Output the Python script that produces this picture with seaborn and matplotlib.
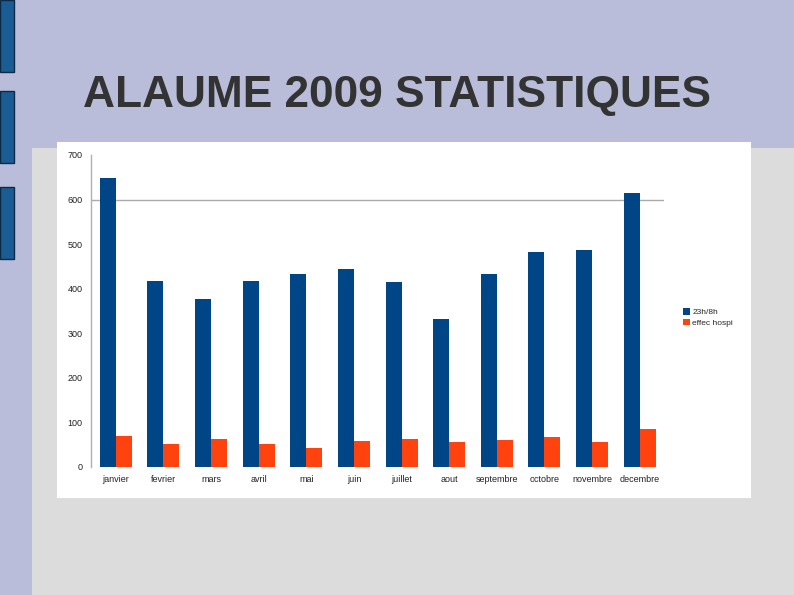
import numpy as np
import pandas as pd
import seaborn as sns
import matplotlib.pyplot as plt
from matplotlib.patches import Rectangle

months = ["janvier", "fevrier", "mars", "avril", "mai", "juin", "juillet",
          "aout", "septembre", "octobre", "novembre", "decembre"]
nuit = [648, 417, 377, 417, 433, 444, 415, 332, 433, 482, 487, 615]
hospi = [70, 52, 63, 52, 43, 58, 63, 56, 60, 67, 56, 85]
series = ["23h/8h", "effec hospi"]
colors = ["#004586", "#ff420e"]

df = pd.DataFrame({
    "mois": months * 2,
    "valeur": nuit + hospi,
    "serie": [series[0]] * 12 + [series[1]] * 12,
})

sns.set_style("white")
plt.rcParams['font.family'] = ['Liberation Sans', 'DejaVu Sans']

W, H = 794, 595
fig = plt.figure(figsize=(W / 100, H / 100), dpi=100)
fig.patch.set_facecolor("#b9bdd9")

def px_rect(x0, y0, x1, y1, **kw):
    fig.patches.append(Rectangle((x0 / W, 1 - y1 / H), (x1 - x0) / W, (y1 - y0) / H,
                                 transform=fig.transFigure, figure=fig, zorder=-5, **kw))

# slide decoration
px_rect(32, 148, 794, 595, facecolor="#dcdcdc", edgecolor="none")
for y0, y1 in [(0, 72), (91, 163), (187, 259)]:
    px_rect(0, y0, 14, y1, facecolor="#1a5c94", edgecolor="#0d2a45", linewidth=1)
px_rect(57, 142, 751, 498, facecolor="white", edgecolor="none")

fig.text(83 / W, 1 - 95 / H, "ALAUME 2009 STATISTIQUES", fontsize=31.9,
         fontweight="bold", color="#333333", va="center", ha="left")

ax = fig.add_axes([91 / W, 1 - 467 / H, (664 - 91) / W, (467 - 155) / H])
sns.barplot(data=df, x="mois", y="valeur", hue="serie", palette=colors,
            width=0.67, saturation=1, linewidth=0, ax=ax, legend=True)
ax.set_facecolor("none")
ax.set_xlim(-0.52, 11.51)
ax.set_ylim(0, 700)
ax.set_yticks(range(0, 701, 100))
ax.axhline(600, color="#aaaaaa", linewidth=1, zorder=0)
ax.set_xlabel("")
ax.set_ylabel("")
ax.tick_params(axis="both", labelsize=6.5, colors="#222222", length=0, pad=6)
for s in ["top", "right", "bottom"]:
    ax.spines[s].set_visible(False)
ax.spines["left"].set_color("#b0b0b0")
ax.spines["left"].set_linewidth(1)

leg = ax.legend(loc="upper left", bbox_to_anchor=((680 - 91) / (664 - 91), (467 - 305) / (467 - 155)),
                frameon=False, fontsize=6, handlelength=0.8, handleheight=0.8,
                handletextpad=0.3, labelspacing=0.3, borderaxespad=0)

fig.savefig("out.png", dpi=100, facecolor=fig.get_facecolor())
